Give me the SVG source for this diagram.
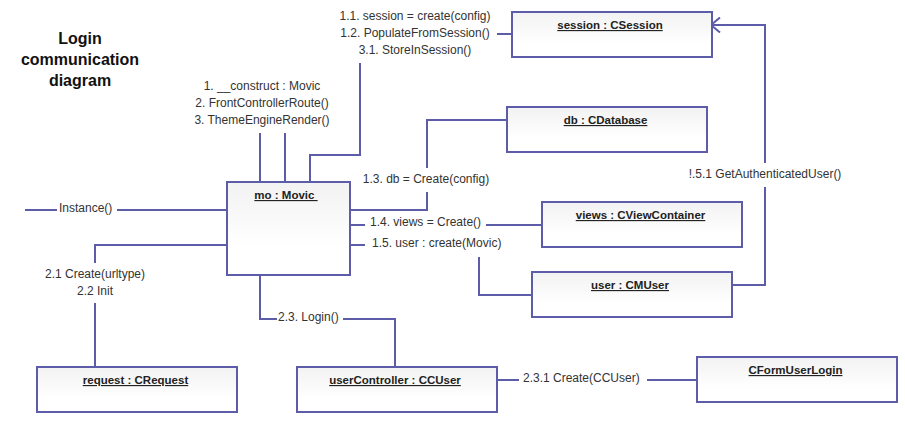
<svg xmlns="http://www.w3.org/2000/svg" width="905" height="442" viewBox="0 0 905 442">
<defs>
<linearGradient id="boxfill" x1="0" y1="0" x2="0" y2="1">
<stop offset="0" stop-color="#f2f2f2"/>
<stop offset="0.7" stop-color="#ffffff"/>
</linearGradient>
<marker id="openArrow" markerWidth="14" markerHeight="20" refX="11" refY="10" orient="auto" markerUnits="userSpaceOnUse" overflow="visible">
<path d="M2,2.5 L11,10 L2,17.5" fill="none" stroke="#5c5ca8" stroke-width="2"/>
</marker>
</defs>
<style>
.box{fill:url(#boxfill);stroke:#5c5ca8;stroke-width:2}
.title{font-family:"Liberation Sans",Arial,sans-serif;font-size:11.5px;font-weight:bold;fill:#222;text-decoration:underline;text-anchor:middle}
.lbl{font-family:"Liberation Sans",Arial,sans-serif;font-size:12px;fill:#333}
.mid{text-anchor:middle}
.conn{fill:none;stroke:#5c5ca8;stroke-width:2}
.heading{font-family:"Liberation Sans",Arial,sans-serif;font-size:16px;font-weight:bold;fill:#111;text-anchor:middle}
</style>
<rect width="905" height="442" fill="#ffffff"/>

<g id="heading">
<text class="heading" x="80" y="44">Login</text>
<text class="heading" x="80" y="65">communication</text>
<text class="heading" x="80" y="86">diagram</text>
</g>

<g id="connectors">
<path class="conn" d="M260,133 V182"/>
<path class="conn" d="M285,133 V182"/>
<path class="conn" d="M310,182 V155 H360 V63"/>
<path class="conn" d="M497,34 H512"/>
<path class="conn" d="M507,120 H427 V168"/>
<path class="conn" d="M427,192 V210 H350"/>
<path class="conn" d="M25,210 H57"/>
<path class="conn" d="M117,210 H227"/>
<path class="conn" d="M351,225 H365"/>
<path class="conn" d="M486,225 H542"/>
<path class="conn" d="M351,245 H365"/>
<path class="conn" d="M479,257 V295 H532"/>
<path class="conn" d="M227,245 H95 V263"/>
<path class="conn" d="M95,303 V367"/>
<path class="conn" d="M260,275 V319 H277"/>
<path class="conn" d="M343,319 H395 V367"/>
<path class="conn" d="M494,380 H519"/>
<path class="conn" d="M647,380 H697"/>
<path class="conn" d="M729,285 H765 V187"/>
<path class="conn" d="M765,163 V25 H711" marker-end="url(#openArrow)"/>

<text class="lbl mid" x="415" y="20">1.1. session = create(config)</text>
<text class="lbl mid" x="415" y="37">1.2. PopulateFromSession()</text>
<text class="lbl mid" x="415" y="54">3.1. StoreInSession()</text>
<text class="lbl mid" x="262" y="90">1. __construct : Movic</text>
<text class="lbl mid" x="262" y="107">2. FrontControllerRoute()</text>
<text class="lbl mid" x="262" y="124">3. ThemeEngineRender()</text>
<text class="lbl mid" x="426" y="183">1.3. db = Create(config)</text>
<text class="lbl" x="59" y="212">Instance()</text>
<text class="lbl" x="370" y="226">1.4. views = Create()</text>
<text class="lbl" x="372" y="247">1.5. user : create(Movic)</text>
<text class="lbl mid" x="95" y="278">2.1 Create(urltype)</text>
<text class="lbl mid" x="95" y="295">2.2 Init</text>
<text class="lbl" x="278" y="321">2.3. Login()</text>
<text class="lbl" x="523" y="382">2.3.1 Create(CCUser)</text>
<text class="lbl mid" x="765" y="178">!.5.1 GetAuthenticatedUser()</text>
</g>

<g id="session">
<rect class="box" x="512" y="12" width="200" height="45"/>
<text class="title" x="610" y="29">session : CSession</text>
</g>
<g id="db">
<rect class="box" x="507" y="107" width="200" height="45"/>
<text class="title" x="605.5" y="124">db : CDatabase</text>
</g>
<g id="views">
<rect class="box" x="542" y="202" width="200" height="45"/>
<text class="title" x="640.5" y="219">views : CViewContainer</text>
</g>
<g id="user">
<rect class="box" x="532" y="272" width="200" height="45"/>
<text class="title" x="630" y="289">user : CMUser</text>
</g>
<g id="mo">
<rect class="box" x="227" y="182" width="123" height="93"/>
<text class="title" x="286" y="199" xml:space="preserve">mo : Movic </text>
</g>
<g id="request">
<rect class="box" x="37" y="367" width="200" height="45"/>
<text class="title" x="135.5" y="384">request : CRequest</text>
</g>
<g id="userController">
<rect class="box" x="297" y="367" width="200" height="45"/>
<text class="title" x="395" y="384">userController : CCUser</text>
</g>
<g id="CFormUserLogin">
<rect class="box" x="697" y="357" width="200" height="45"/>
<text class="title" x="795.5" y="374">CFormUserLogin</text>
</g>
</svg>
